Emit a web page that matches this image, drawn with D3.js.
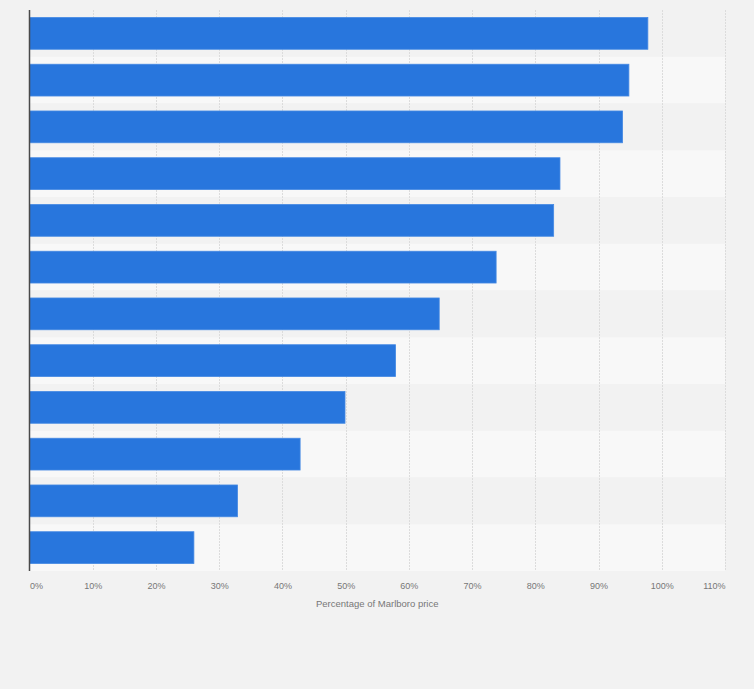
<!DOCTYPE html>
<html><head><meta charset="utf-8">
<script src="https://cdn.jsdelivr.net/npm/d3@7"></script>
<style>html,body{margin:0;padding:0;background:#f2f2f2;}svg{display:block;}</style>
</head><body>
<svg id="c" width="754" height="689"></svg>
<script>
const categories = ["Item 1","Item 2","Item 3","Item 4","Item 5","Item 6","Item 7","Item 8","Item 9","Item 10","Item 11","Item 12"];
const values = [97.8, 94.8, 93.8, 83.9, 82.9, 73.8, 64.8, 57.9, 49.9, 42.8, 32.9, 26];
const tickValues = [0,10,20,30,40,50,60,70,80,90,100,110];
const axisTitle = "Percentage of Marlboro price";

const svg = d3.select("#c");
const W = 754, H = 689;
const m = {left: 29.5, right: 754-725, top: 10, bottom: 689-571};
svg.append("rect").attr("width",W).attr("height",H).attr("fill","#f2f2f2");

const x = d3.scaleLinear().domain([0,110]).range([m.left, W-m.right]);
const y = d3.scaleBand().domain(categories).range([m.top, H-m.bottom]).paddingInner(0.32).paddingOuter(0.16);
const yb = d3.scaleBand().domain(categories).range([m.top, H-m.bottom]);

// alternating bands
svg.append("g").selectAll("rect").data(categories).join("rect")
  .attr("x", m.left).attr("width", x(110)-m.left)
  .attr("y", d=>yb(d)).attr("height", yb.bandwidth())
  .attr("fill", (d,i)=> i%2 ? "#f8f8f8" : "#f2f2f2");

// gridlines
svg.append("g").selectAll("line").data(tickValues.filter(t=>t>0)).join("line")
  .attr("x1", d=>Math.round(x(d))+0.5).attr("x2", d=>Math.round(x(d))+0.5)
  .attr("y1", m.top).attr("y2", H-m.bottom)
  .attr("stroke","#dcdcdc").attr("stroke-width",1).attr("stroke-dasharray","2,1");

// bars
svg.append("g").selectAll("rect").data(values).join("rect")
  .attr("x", x(0)).attr("y", (d,i)=>y(categories[i]))
  .attr("width", d=>x(d)-x(0)).attr("height", y.bandwidth())
  .attr("fill","#2876dd").attr("stroke","#4589e3").attr("stroke-width",0.8);

// axis line
svg.append("line").attr("x1",m.left).attr("x2",m.left).attr("y1",m.top).attr("y2",H-m.bottom)
  .attr("stroke","#4a4a4a").attr("stroke-width",1.5);

// x axis labels
const ax = svg.append("g").attr("transform",`translate(0,${H-m.bottom})`)
  .call(d3.axisBottom(x).tickValues(tickValues).tickFormat(d=>d+"%").tickSize(0).tickPadding(12));
ax.select(".domain").remove();
ax.selectAll("text").attr("fill","#777").style("font-family","Arial, 'Liberation Sans', sans-serif").style("font-size","9px")
  .attr("text-anchor", d => d===0 ? "start" : (d===110 ? "end" : "middle"));

svg.append("text").attr("x", (x(0)+x(110))/2).attr("y", 607)
  .attr("text-anchor","middle").attr("fill","#777")
  .style("font-family","Arial, 'Liberation Sans', sans-serif").style("font-size","9.5px")
  .text(axisTitle);
</script>
</body></html>
